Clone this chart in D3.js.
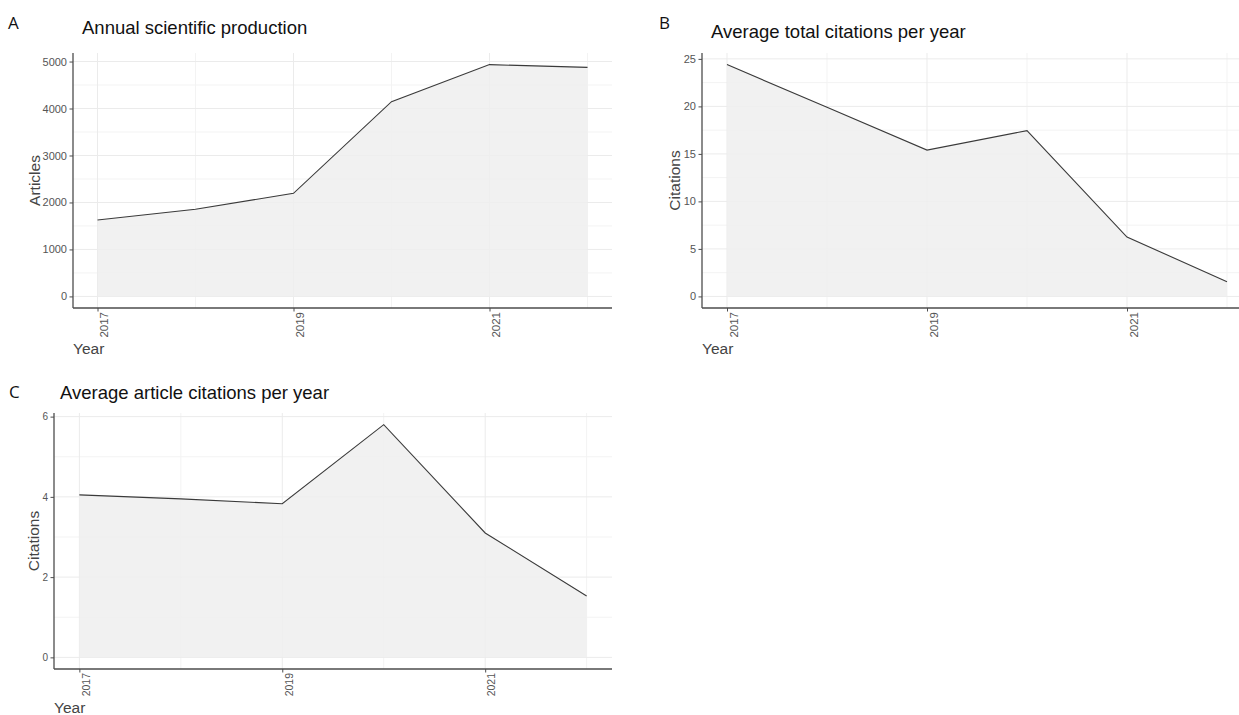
<!DOCTYPE html>
<html>
<head>
<meta charset="utf-8">
<script src="https://cdn.jsdelivr.net/npm/d3@7"></script>
<style>
  html, body { margin: 0; padding: 0; background: #fff; }
  svg { display: block; }
</style>
</head>
<body>
<svg id="chart" width="1239" height="715"></svg>
<script>
// ---------- data ----------
const years = [2017, 2018, 2019, 2020, 2021, 2022];
const articles = [1625, 1855, 2195, 4145, 4935, 4875];
const totalCitations = [24.4, 19.9, 15.4, 17.45, 6.25, 1.55];
const articleCitations = [4.05, 3.95, 3.83, 5.8, 3.1, 1.53];
const xTickLabels = [2017, 2019, 2021];
const xMinorBreaks = [2018, 2020, 2022];
const yTicksA = [0, 1000, 2000, 3000, 4000, 5000];
const yMinorA = [500, 1500, 2500, 3500, 4500];
const yTicksB = [0, 5, 10, 15, 20, 25];
const yMinorB = [2.5, 7.5, 12.5, 17.5, 22.5];
const yTicksC = [0, 2, 4, 6];
const yMinorC = [1, 3, 5];
const panelLetters = ["A", "B", "C"];
const titles = ["Annual scientific production", "Average total citations per year", "Average article citations per year"];
const yTitles = ["Articles", "Citations", "Citations"];
const xTitle = "Year";

const svg = d3.select("#chart");

function expand(lo, hi) {
  const d = (hi - lo) * 0.05;
  return [lo - d, hi + d];
}

function panel(cfg) {
  const g = svg.append("g");
  const x = d3.scaleLinear().domain(expand(d3.min(years), d3.max(years))).range([cfg.left, cfg.right]);
  const y = d3.scaleLinear().domain(expand(0, d3.max(cfg.values))).range([cfg.bottom, cfg.top]);

  // grid
  const grid = g.append("g");
  grid.selectAll(".ymin").data(cfg.yMinor).join("line")
    .attr("x1", cfg.left).attr("x2", cfg.right)
    .attr("y1", d => y(d)).attr("y2", d => y(d))
    .attr("stroke", "#f3f3f3").attr("stroke-width", 1);
  grid.selectAll(".xmin").data(xMinorBreaks).join("line")
    .attr("y1", cfg.top).attr("y2", cfg.bottom)
    .attr("x1", d => x(d)).attr("x2", d => x(d))
    .attr("stroke", "#f3f3f3").attr("stroke-width", 1);
  grid.selectAll(".ymaj").data(cfg.yTicks).join("line")
    .attr("x1", cfg.left).attr("x2", cfg.right)
    .attr("y1", d => y(d)).attr("y2", d => y(d))
    .attr("stroke", "#ebebeb").attr("stroke-width", 1);
  grid.selectAll(".xmaj").data(xTickLabels).join("line")
    .attr("y1", cfg.top).attr("y2", cfg.bottom)
    .attr("x1", d => x(d)).attr("x2", d => x(d))
    .attr("stroke", "#ebebeb").attr("stroke-width", 1);

  const pts = years.map((yr, i) => [yr, cfg.values[i]]);
  g.append("path").datum(pts)
    .attr("d", d3.area().x(d => x(d[0])).y0(y(0)).y1(d => y(d[1])))
    .attr("fill", "#efefef").attr("fill-opacity", 0.85);
  g.append("path").datum(pts)
    .attr("d", d3.line().x(d => x(d[0])).y(d => y(d[1])))
    .attr("fill", "none").attr("stroke", "#3a3a3a").attr("stroke-width", 1.1);

  // axes
  const ya = g.append("g").attr("transform", `translate(${cfg.left},0)`)
    .call(d3.axisLeft(y).tickValues(cfg.yTicks).tickFormat(d3.format("d")).tickSize(3.5).tickSizeOuter(0).tickPadding(2.5));
  ya.select(".domain").attr("stroke", "#4d4d4d").attr("stroke-width", 1.3)
    .attr("d", `M0,${cfg.top}V${cfg.bottom}`);
  ya.selectAll(".tick line").attr("stroke", "#4d4d4d");
  ya.selectAll(".tick text").attr("fill", "#555").style("font-family", "'Liberation Sans', Arial, sans-serif")
    .style("font-size", cfg.tickFont + "px");

  const xa = g.append("g").attr("transform", `translate(0,${cfg.bottom})`)
    .call(d3.axisBottom(x).tickValues(xTickLabels).tickFormat(d3.format("d")).tickSize(3.5).tickSizeOuter(0));
  xa.select(".domain").attr("stroke", "#4d4d4d").attr("stroke-width", 1.3)
    .attr("d", `M${cfg.left},0H${cfg.right}`);
  xa.selectAll(".tick line").attr("stroke", "#4d4d4d");
  xa.selectAll(".tick text")
    .attr("fill", "#555").style("font-family", "'Liberation Sans', Arial, sans-serif")
    .style("font-size", cfg.tickFont + 0.5 + "px")
    .attr("text-anchor", "end")
    .attr("transform", "rotate(-90)")
    .attr("x", -4).attr("y", cfg.tickFont * 0.36 + 2.5).attr("dy", "0.35em");

  // axis titles
  g.append("text").text(cfg.yTitle)
    .attr("transform", `translate(${cfg.yTitleX},${(cfg.top + cfg.bottom) / 2}) rotate(-90)`)
    .attr("text-anchor", "middle")
    .attr("fill", "#444").style("font-family", "'Liberation Sans', Arial, sans-serif").style("font-size", "15.5px");
  g.append("text").text(xTitle)
    .attr("x", cfg.left).attr("y", cfg.xTitleY)
    .attr("fill", "#444").style("font-family", "'Liberation Sans', Arial, sans-serif").style("font-size", "15.5px");

  // title and letter
  g.append("text").text(cfg.title)
    .attr("x", cfg.titleX).attr("y", cfg.titleY)
    .attr("fill", "#111").style("font-family", "'Liberation Sans', Arial, sans-serif").style("font-size", "18.5px");
  g.append("text").text(cfg.letter)
    .attr("x", cfg.letterX).attr("y", cfg.letterY)
    .attr("fill", "#111").style("font-family", "'Open Sans', 'Noto Sans', sans-serif").style("font-size", "17px");
}

panel({ values: articles, yTicks: yTicksA, yMinor: yMinorA, left: 73, right: 612, top: 53, bottom: 308,
  tickFont: 11, yTitle: yTitles[0], yTitleX: 39.5, xTitleY: 354,
  title: titles[0], titleX: 82, titleY: 34, letter: panelLetters[0], letterX: 8, letterY: 29 });

panel({ values: totalCitations, yTicks: yTicksB, yMinor: yMinorB, left: 702, right: 1252, top: 53, bottom: 308,
  tickFont: 11, yTitle: yTitles[1], yTitleX: 680, xTitleY: 354,
  title: titles[1], titleX: 711, titleY: 37.5, letter: panelLetters[1], letterX: 659, letterY: 29 });

panel({ values: articleCitations, yTicks: yTicksC, yMinor: yMinorC, left: 54, right: 612, top: 413, bottom: 669,
  tickFont: 10, yTitle: yTitles[2], yTitleX: 38.5, xTitleY: 713,
  title: titles[2], titleX: 60, titleY: 399, letter: panelLetters[2], letterX: 9, letterY: 398 });
</script>
</body>
</html>
